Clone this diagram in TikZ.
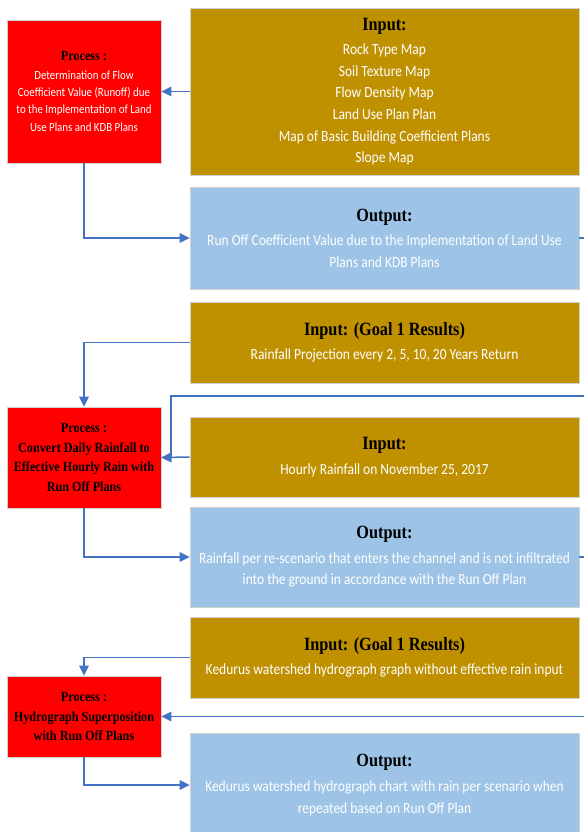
\documentclass[tikz,border=0pt]{standalone}
\usepackage{fontspec}
\setmainfont{Carlito}[FakeStretch=0.87]
\newfontfamily\tnr{Liberation Serif}[FakeStretch=0.87]
\usetikzlibrary{arrows.meta}
\definecolor{gold}{HTML}{BF9000}
\definecolor{procred}{HTML}{FF0000}
\definecolor{outblue}{HTML}{9DC3E6}
\definecolor{linkblue}{HTML}{4472C4}
\definecolor{edgegray}{HTML}{D0D0D0}
\newcommand\ttlfont{\tnr\bfseries\fontsize{18.7}{22}\selectfont}
\newcommand\bodyfont{\fontsize{15.5}{21.6}\selectfont}
\newcommand\ptitle{\tnr\bfseries\fontsize{14}{19.5}\selectfont}
\newcommand\psmall{\fontsize{12.5}{17.4}\selectfont}
\tikzset{
  box/.style={draw=edgegray, line width=0.8pt, inner sep=0pt, align=center, text=white, font=\bodyfont},
  procbox/.style={box, fill=procred, minimum width=154pt},
  inbox/.style={box, fill=gold, minimum width=389pt},
  outbox/.style={box, fill=outblue, minimum width=389pt},
  arr/.style={draw=linkblue, line width=1.5pt, -{Triangle[width=9.5pt,length=10pt]}},
}
\begin{document}
\begin{tikzpicture}[x=1pt,y=-1pt]
\useasboundingbox (0,0) rectangle (584,832);
\clip (0,0) rectangle (584,832);
% boxes
\node[procbox, minimum height=143pt, font=\psmall] (p1) at (84,91.5)
  {{\ptitle\color{black}Process :}\\[1pt]Determination of Flow\\Coefficient Value (Runoff) due\\to the Implementation of Land\\Use Plans and KDB Plans};
\node[inbox, minimum height=167pt] (in1) at (384.5,91.5)
  {{\ttlfont\color{black}Input:}\\[3pt]Rock Type Map\\Soil Texture Map\\Flow Density Map\\Land Use Plan Plan\\Map of Basic Building Coefficient Plans\\Slope Map};
\node[outbox, minimum height=102pt] (out1) at (384.5,238)
  {{\ttlfont\color{black}Output:}\\[3pt]Run Off Coefficient Value due to the Implementation of Land Use\\Plans and KDB Plans};
\node[inbox, minimum height=81pt] (in2) at (384.5,342.5)
  {{\ttlfont\color{black}Input: (Goal 1 Results)}\\[3pt]Rainfall Projection every 2, 5, 10, 20 Years Return};
\node[procbox, minimum height=101pt, font=\ptitle, text=black] (p2) at (84,457.5)
  {Process :\\Convert Daily Rainfall to\\Effective Hourly Rain with\\Run Off Plans};
\node[inbox, minimum height=80pt] (in3) at (384.5,457)
  {{\ttlfont\color{black}Input:}\\[3pt]Hourly Rainfall on November 25, 2017};
\node[outbox, minimum height=100pt] (out2) at (384.5,557)
  {{\ttlfont\color{black}Output:}\\[3pt]Rainfall per re-scenario that enters the channel and is not infiltrated\\into the ground in accordance with the Run Off Plan};
\node[inbox, minimum height=81pt] (in4) at (384.5,657.5)
  {{\ttlfont\color{black}Input: (Goal 1 Results)}\\[3pt]Kedurus watershed hydrograph graph without effective rain input};
\node[procbox, minimum height=81pt, font=\ptitle, text=black] (p3) at (84,716.5)
  {Process :\\Hydrograph Superposition\\with Run Off Plans};
\node[outbox, minimum height=104pt] (out3) at (384.5,785)
  {{\ttlfont\color{black}Output:}\\[3pt]Kedurus watershed hydrograph chart with rain per scenario when\\repeated based on Run Off Plan};
% helper coordinates
\coordinate (e1) at (610,238);
\coordinate (j1) at (171,396);
\coordinate (e2) at (610,557);
% connectors
\draw[arr] (in1.west) -- (p1.east);
\draw[arr] (p1.south) |- (out1.west);
\draw[arr] (out1.east) -- (e1) |- (j1) |- (p2.east);
\draw[arr] (in2.west) -| (p2.north);
\draw[arr] (in3.west) -- (p2.east);
\draw[arr] (p2.south) |- (out2.west);
\draw[arr] (out2.east) -- (e2) |- (p3.east);
\draw[arr] (in4.west) -| (p3.north);
\draw[arr] (p3.south) |- (out3.west);
\end{tikzpicture}
\end{document}
